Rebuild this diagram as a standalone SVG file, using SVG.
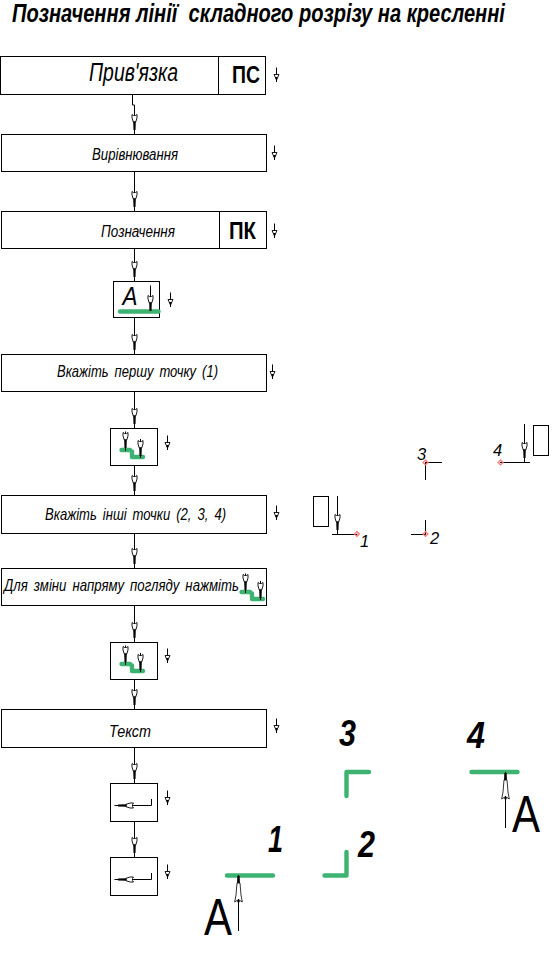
<svg xmlns="http://www.w3.org/2000/svg" width="552" height="953" viewBox="0 0 552 953">
<style>
text{font-family:"Liberation Sans",Arial,sans-serif;font-style:italic;fill:#000;white-space:pre}
.b{fill:#fff;stroke:#000;stroke-width:1}
.l{fill:none;stroke:#000;stroke-width:1}
.g{fill:none;stroke:#3CB371;stroke-width:4.4;stroke-linecap:round;stroke-linejoin:round}
.bb{font-weight:bold}
.n{font-style:normal}
.pk{fill:none;stroke:#F77;stroke-width:1.2}
.ws{word-spacing:3px}
</style>
<defs>
<g id="head"><path d="M-2.500-15.500L-1-14.500H1L2.500-15.500V-12L1.200-8H-1.200L-2.500-12Z" fill="#fff" stroke="#000" stroke-width=".9"/><path d="M-1.300-8.500H1.300L1 0H-1Z" fill="#000"/></g>
<g id="mini"><path d="M0-14.500V0" class="l"/><path d="M-2.500-7.500H2.500L0-2Z" fill="#fff" stroke="#000" stroke-width=".9"/><path d="M-1.200-5H1.200L0-1Z" fill="#000"/></g>
<g id="stair"><path d="M121.500 450H130M132 451.500V457H143" class="g"/><path d="M125.500 431.500V451M140.500 439V458" class="l"/><use href="#head" x="125.500" y="448"/><use href="#head" x="140.500" y="456"/></g>
<g id="hor"><path d="M114.500 805.500H151.500V799" class="l"/><g transform="translate(118 805.500) rotate(90)"><use href="#head"/></g></g>
<g id="bigup"><path d="M-1.500 8H1.500L2.500 20L3.800 27L.8 25V27H-.8V25L-3.800 27L-2.500 20Z" fill="#fff" stroke="#000" stroke-width=".8"/><path d="M0 0V8M0 24V56" class="l"/><path d="M-1.200 1H1.200L1.400 8H-1.400Z" fill="#000"/></g>
<g id="pt"><path d="M0-2.500L2.500 0L0 2.500L-2.500 0Z" class="pk"/><circle r=".6" fill="#000"/></g>
</defs>

<text id="title" transform="translate(12 22) scale(.773 1)" font-size="26" class="bb">Позначення лінії  складного розрізу на кресленні</text>

<g id="connectors">
<path class="l" d="M132.500 94V105H134.500V134M134.500 171V211M134.500 248V281M134.500 317V354M134.500 391V428M134.500 465V495M134.500 533V568M134.500 605V642M134.500 679V709M134.500 747V783M134.500 821V857"/>
<use href="#head" x="134.500" y="130"/><use href="#head" x="134.500" y="207"/><use href="#head" x="134.500" y="277"/><use href="#head" x="134.500" y="350"/><use href="#head" x="134.500" y="424"/><use href="#head" x="134.500" y="491"/><use href="#head" x="134.500" y="564"/><use href="#head" x="134.500" y="638"/><use href="#head" x="134.500" y="705"/><use href="#head" x="134.500" y="779"/><use href="#head" x="134.500" y="853"/>
</g>

<g id="node-pryvyazka"><rect class="b" x=".5" y="56.500" width="265" height="38"/><path class="l" d="M218.500 56.500V94.500"/><text x="89" y="81" font-size="25" textLength="89" lengthAdjust="spacingAndGlyphs">Прив'язка</text><text class="bb n" x="232" y="83" font-size="24" textLength="28" lengthAdjust="spacingAndGlyphs">ПС</text><use href="#mini" x="276.500" y="82"/></g>
<g id="node-vyrivnyuvannya"><rect class="b" x="1.500" y="134.500" width="265" height="37"/><text x="92" y="160" font-size="16" textLength="86" lengthAdjust="spacingAndGlyphs">Вирівнювання</text><use href="#mini" x="274.500" y="160"/></g>
<g id="node-poznachennya"><rect class="b" x="1.500" y="211.500" width="265" height="37"/><path class="l" d="M219.500 211.500V248.500"/><text x="101" y="237" font-size="16" textLength="74" lengthAdjust="spacingAndGlyphs">Позначення</text><text class="bb n" x="229" y="239" font-size="24" textLength="27" lengthAdjust="spacingAndGlyphs">ПК</text><use href="#mini" x="274.500" y="238"/></g>
<g id="node-a"><rect class="b" x="113.500" y="281.500" width="46" height="36"/><text x="122.500" y="305" font-size="25" textLength="15" lengthAdjust="spacingAndGlyphs">А</text><path class="g" d="M120 311.500H158.500"/><path class="l" d="M150.500 285.500V311"/><use href="#head" x="150.500" y="311"/><use href="#mini" x="170.500" y="307"/></g>
<g id="node-first"><rect class="b" x="1.500" y="354.500" width="265" height="37"/><text class="ws" x="57" y="377" font-size="16.500" textLength="161" lengthAdjust="spacingAndGlyphs">Вкажіть першу точку (1)</text><use href="#mini" x="272.500" y="379"/></g>
<g id="node-dir1"><rect class="b" x="110.500" y="428.500" width="47" height="37"/><use href="#stair"/><use href="#mini" x="167.500" y="450"/></g>
<g id="node-other"><rect class="b" x="1.500" y="495.500" width="265" height="38"/><text class="ws" x="45" y="520" font-size="16.500" textLength="181" lengthAdjust="spacingAndGlyphs">Вкажіть інші точки (2, 3, 4)</text><use href="#mini" x="276.500" y="520"/></g>
<g id="node-change"><rect class="b" x="1.500" y="568.500" width="265" height="37"/><text class="ws" x="4" y="591" font-size="16.500" textLength="235" lengthAdjust="spacingAndGlyphs">Для зміни напряму погляду нажміть</text><use href="#stair" transform="translate(120 142)"/></g>
<g id="node-dir2"><rect class="b" x="110.500" y="642.500" width="47" height="37"/><use href="#stair" transform="translate(0 214)"/><use href="#mini" x="167.500" y="663"/></g>
<g id="node-text"><rect class="b" x="1.500" y="709.500" width="265" height="38"/><text x="109" y="737" font-size="16.500" textLength="42" lengthAdjust="spacingAndGlyphs">Текст</text><use href="#mini" x="276.500" y="733"/></g>
<g id="node-h1"><rect class="b" x="110.500" y="783.500" width="47" height="38"/><use href="#hor"/><use href="#mini" x="167.500" y="805"/></g>
<g id="node-h2"><rect class="b" x="110.500" y="857.500" width="47" height="38"/><use href="#hor" transform="translate(0 74)"/><use href="#mini" x="167.500" y="879"/></g>

<g id="step-points">
<rect class="b" x="313.500" y="496.500" width="15" height="30"/>
<path class="l" d="M337.500 496V534.500M332 534.500H357"/><use href="#head" x="337.500" y="530"/><use href="#pt" x="357" y="534"/>
<text x="360" y="547" font-size="16.500">1</text>
<path class="l" d="M425.500 520V534.500M411 534.500H425.500"/><use href="#pt" x="425.500" y="534"/>
<text x="430" y="544" font-size="16.500">2</text>
<path class="l" d="M425.500 462.500H442M425.500 462.500V480"/><use href="#pt" x="425.500" y="462.500"/>
<text x="417" y="460" font-size="16.500">3</text>
<path class="l" d="M500.500 462.500H530M524.500 424V462.500"/><use href="#head" x="524.500" y="458"/><use href="#pt" x="500.500" y="462.500"/>
<text x="493" y="456" font-size="16.500">4</text>
<rect class="b" x="533.500" y="425.500" width="15" height="30"/>
</g>

<g id="result">
<path class="g" d="M227 875.500H273M324.500 875.500H346.500V852M346.500 796V772H369M471.500 772H517.500"/>
<use href="#bigup" x="238.500" y="875"/><use href="#bigup" x="505.500" y="772"/>
<text class="bb" x="268" y="852" font-size="36" textLength="15" lengthAdjust="spacingAndGlyphs">1</text>
<text class="bb" x="358" y="857" font-size="36" textLength="17" lengthAdjust="spacingAndGlyphs">2</text>
<text class="bb" x="339" y="746" font-size="36" textLength="17" lengthAdjust="spacingAndGlyphs">3</text>
<text class="bb" x="467" y="748" font-size="36" textLength="18" lengthAdjust="spacingAndGlyphs">4</text>
<text class="n" x="204" y="935" font-size="51" textLength="28" lengthAdjust="spacingAndGlyphs">А</text>
<text class="n" x="512" y="832" font-size="51" textLength="28" lengthAdjust="spacingAndGlyphs">А</text>
</g>
</svg>
